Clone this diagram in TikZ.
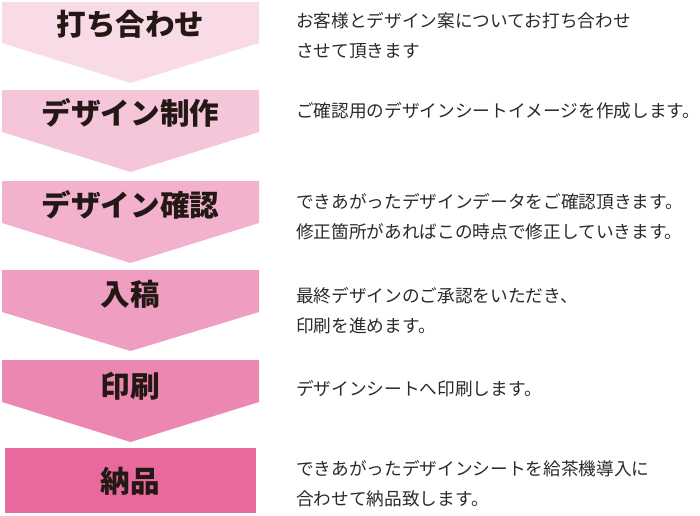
\documentclass[tikz,border=0pt]{standalone}
\usepackage{fontspec}
\newfontfamily\jp{Noto Sans CJK JP}
\definecolor{cA}{HTML}{F9DBE7}
\definecolor{cB}{HTML}{F5C5DA}
\definecolor{cC}{HTML}{F2B1CC}
\definecolor{cD}{HTML}{EF9DC0}
\definecolor{cE}{HTML}{EC87B2}
\definecolor{cF}{HTML}{E8699D}
\definecolor{ink}{HTML}{231815}
\definecolor{body}{HTML}{2A2A2A}
\tikzset{
  steplabel/.style={font={\jp\bfseries\fontsize{22.2}{26}\selectfont}, text=ink, anchor=center, inner sep=0pt},
  desc/.style={font={\jp\fontsize{13.25}{22.8}\selectfont}, text=body, anchor=west, align=left, inner sep=0pt},
}
\begin{document}
\begin{tikzpicture}[x=0.75pt,y=-0.75pt]
\useasboundingbox (0,0) rectangle (700,515);
% arrow shapes
\fill[cA] (2,2) -- (259,2) -- (259,43) -- (130.5,83) -- (2,43) -- cycle;
\fill[cB] (2,90) -- (259,90) -- (259,132) -- (130.5,172) -- (2,132) -- cycle;
\fill[cC] (2,181) -- (259,181) -- (259,223) -- (130.5,263) -- (2,223) -- cycle;
\fill[cD] (2,270) -- (259,270) -- (259,312) -- (130.5,351) -- (2,312) -- cycle;
\fill[cE] (2,360) -- (259,360) -- (259,402) -- (130.5,442) -- (2,402) -- cycle;
\fill[cF] (5,448) rectangle (256,513);
% labels
\node[steplabel] (s1) at (130.5,24) {打ち合わせ};
\node[steplabel] (s2) at (130.5,113) {デザイン制作};
\node[steplabel] (s3) at (130.5,205) {デザイン確認};
\node[steplabel] (s4) at (130.5,294) {入稿};
\node[steplabel] (s5) at (130.5,386) {印刷};
\node[steplabel] (s6) at (130.5,481) {納品};
% descriptions
\node[desc] (d1) at (296,35.5) {お客様とデザイン案についてお打ち合わせ\\させて頂きます};
\node[desc] (d2) at (296,110.5) {ご確認用のデザインシートイメージを作成します。};
\node[desc] (d3) at (296,216.5) {できあがったデザインデータをご確認頂きます。\\修正箇所があればこの時点で修正していきます。};
\node[desc] (d4) at (296,310.5) {最終デザインのご承認をいただき、\\印刷を進めます。};
\node[desc] (d5) at (296,388.5) {デザインシートへ印刷します。};
\node[desc] (d6) at (296,483.5) {できあがったデザインシートを給茶機導入に\\合わせて納品致します。};
\end{tikzpicture}
\end{document}
